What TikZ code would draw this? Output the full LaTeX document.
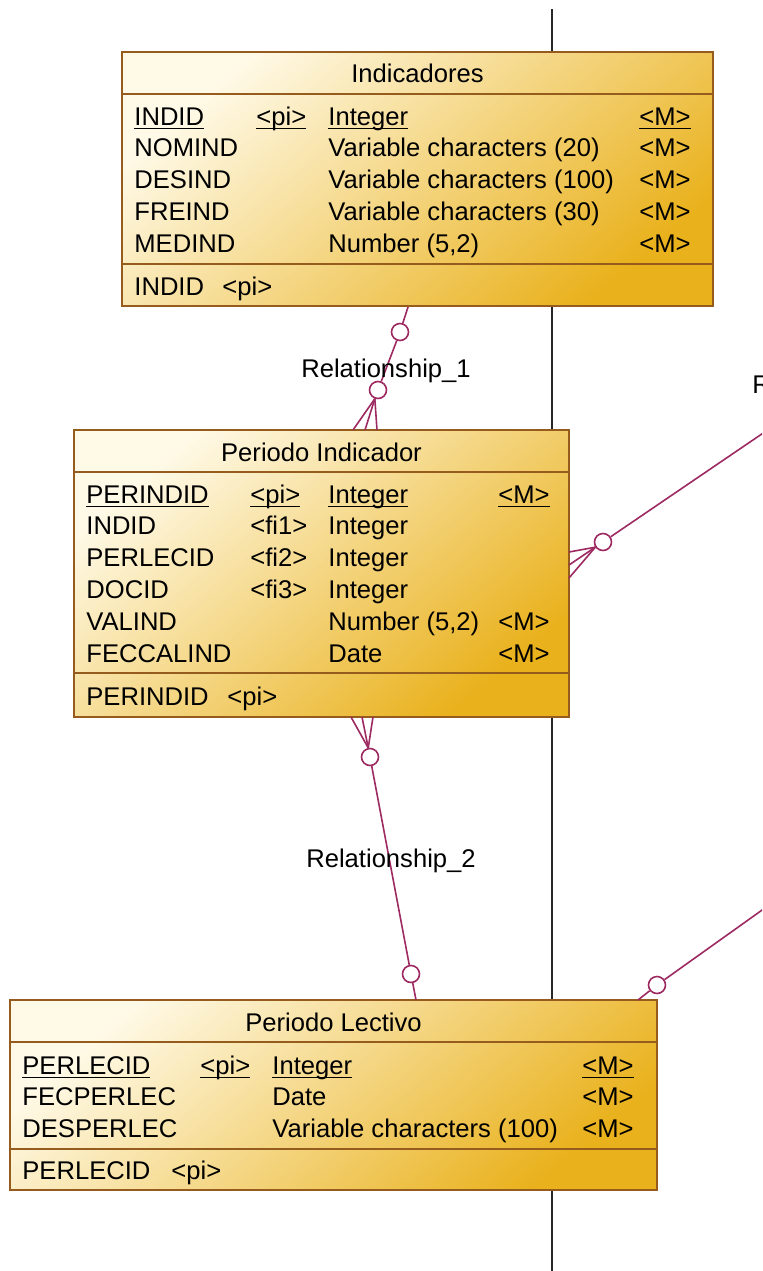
\documentclass[tikz,border=0pt]{standalone}
\usepackage{fontspec}
\setmainfont{Liberation Sans}
\usetikzlibrary{calc,fit}
\definecolor{entpale}{RGB}{255,250,232}
\definecolor{entgold}{RGB}{233,177,28}
\definecolor{entedge}{RGB}{150,92,30}
\definecolor{relline}{RGB}{158,42,98}
\definecolor{laneline}{RGB}{40,40,40}
\newsavebox\keybox
\newcommand{\pkey}[1]{\sbox\keybox{#1}\rlap{\rule[-2.1pt]{\wd\keybox}{0.6pt}}\usebox\keybox}
\tikzset{%
	entity/.style   = {draw=entedge, line width=1pt, inner sep=0pt, top color=entpale, bottom color=entgold, shading angle=40},
	divider/.style  = {draw=entedge, line width=1pt},
	title/.style    = {anchor=base, inner sep=0pt},
	attr/.style     = {anchor=base west, inner sep=0pt},
	rel/.style      = {draw=relline, line width=0.8pt},
	optional/.style = {circle, draw=relline, line width=0.8pt, fill=white, minimum size=8.5pt, inner sep=0pt},
	rellabel/.style = {anchor=base, inner sep=0pt},
}

\begin{document}
\begin{tikzpicture}[x=0.5pt,y=-0.5pt, every node/.style={font=\fontsize{12.8pt}{16pt}\selectfont}]
	\useasboundingbox (0,0) rectangle (762,1271);
	\fill[white] (0,0) rectangle (762,1271);
	\clip (0,0) rectangle (762,1271);
	
	\coordinate (lanetop) at (552,9);
	\coordinate (lanebot) at (552,1280);
	\draw[laneline, line width=1pt] (lanetop) -- (lanebot);
	
	% Indicadores
	\node[entity, fit={(122,52) (713,306)}] (ind) {};
	\draw[divider] (122,94) -- (713,94);
	\draw[divider] (122,264) -- (713,264);
	\node[title] (ind-title) at (417.5,82) {Indicadores};
	\node[attr] (ind-n0) at (134,125) {\pkey{INDID}};
	\node[attr] (ind-k0) at (256,125) {\pkey{<pi>}};
	\node[attr] (ind-t0) at (328,125) {\pkey{Integer}};
	\node[attr] (ind-m0) at (639,125) {\pkey{<M>}};
	\foreach \n/\t [count=\i] in {NOMIND/Variable characters (20),DESIND/Variable characters (100),FREIND/Variable characters (30),{MEDIND/Number (5,2)}} {
		\node[attr] (ind-n\i) at (134,{125+31.8*\i}) {\n};
		\node[attr] (ind-t\i) at (328,{125+31.8*\i}) {\t};
		\node[attr] (ind-m\i) at (639,{125+31.8*\i}) {<M>};
	}
	\node[attr] (ind-f0) at (134,295) {INDID};
	\node[attr] (ind-f1) at (222,295) {<pi>};
	
	% Periodo Indicador
	\node[entity, fit={(74,430) (569,717)}] (pind) {};
	\draw[divider] (74,472) -- (569,472);
	\draw[divider] (74,673) -- (569,673);
	\node[title] (pind-title) at (321.5,461) {Periodo Indicador};
	\node[attr] (pind-n0) at (86,503) {\pkey{PERINDID}};
	\node[attr] (pind-k0) at (250,503) {\pkey{<pi>}};
	\node[attr] (pind-t0) at (328,503) {\pkey{Integer}};
	\node[attr] (pind-m0) at (498,503) {\pkey{<M>}};
	\foreach \n/\k/\t/\m [count=\i] in {INDID/<fi1>/Integer/,PERLECID/<fi2>/Integer/,DOCID/<fi3>/Integer/,{VALIND//Number (5,2)/<M>},FECCALIND//Date/<M>} {
		\node[attr] (pind-n\i) at (86,{503+31.8*\i}) {\n};
		\node[attr] (pind-k\i) at (250,{503+31.8*\i}) {\k};
		\node[attr] (pind-t\i) at (328,{503+31.8*\i}) {\t};
		\node[attr] (pind-m\i) at (498,{503+31.8*\i}) {\m};
	}
	\node[attr] (pind-f0) at (86,705) {PERINDID};
	\node[attr] (pind-f1) at (227,705) {<pi>};
	
	% Periodo Lectivo
	\node[entity, fit={(10,1000) (657,1190)}] (plec) {};
	\draw[divider] (10,1042) -- (657,1042);
	\draw[divider] (10,1149) -- (657,1149);
	\node[title] (plec-title) at (333.5,1031) {Periodo Lectivo};
	\node[attr] (plec-n0) at (22,1074) {\pkey{PERLECID}};
	\node[attr] (plec-k0) at (200,1074) {\pkey{<pi>}};
	\node[attr] (plec-t0) at (272,1074) {\pkey{Integer}};
	\node[attr] (plec-m0) at (582,1074) {\pkey{<M>}};
	\foreach \n/\t [count=\i] in {FECPERLEC/Date,DESPERLEC/Variable characters (100)} {
		\node[attr] (plec-n\i) at (22,{1074+31.8*\i}) {\n};
		\node[attr] (plec-t\i) at (272,{1074+31.8*\i}) {\t};
		\node[attr] (plec-m\i) at (582,{1074+31.8*\i}) {<M>};
	}
	\node[attr] (plec-f0) at (22,1179) {PERLECID};
	\node[attr] (plec-f1) at (171,1179) {<pi>};
	
	% Relationship_1
	\coordinate (r1a) at (408,307);
	\node[optional] (o1a) at (400,332) {};
	\node[optional] (o1b) at (378,390) {};
	\draw[rel] (r1a) -- (o1a) -- (o1b);
	\foreach \x in {353,365,377} \draw[rel] (o1b.250) -- (\x,430);
	\node[rellabel] (l1) at (386,377) {Relationship\_1};
	
	% Relationship_2
	\node[optional] (o2a) at (370,757) {};
	\node[optional] (o2b) at (411,974) {};
	\coordinate (r2b) at (416,1000);
	\draw[rel] (o2a) -- (o2b) -- (r2b);
	\foreach \x in {351,362,373} \draw[rel] (o2a.101) -- (\x,717);
	\node[rellabel] (l2) at (391,867) {Relationship\_2};
	
	% Relationship_3
	\node[optional] (o3) at (603,542) {};
	\coordinate (r3end) at (800,408);
	\draw[rel] (o3) -- (r3end);
	\foreach \y in {552,565,578} \draw[rel] (o3.214) -- (569,\y);
	\node[rellabel, anchor=base west] (l3) at (752,393) {Relationship\_3};
	
	% Periodo Lectivo to the right
	\coordinate (r4a) at (638,1000);
	\node[optional] (o4) at (657,985) {};
	\coordinate (r4end) at (800,883);
	\draw[rel] (r4a) -- (o4) -- (r4end);
\end{tikzpicture}
\end{document}
